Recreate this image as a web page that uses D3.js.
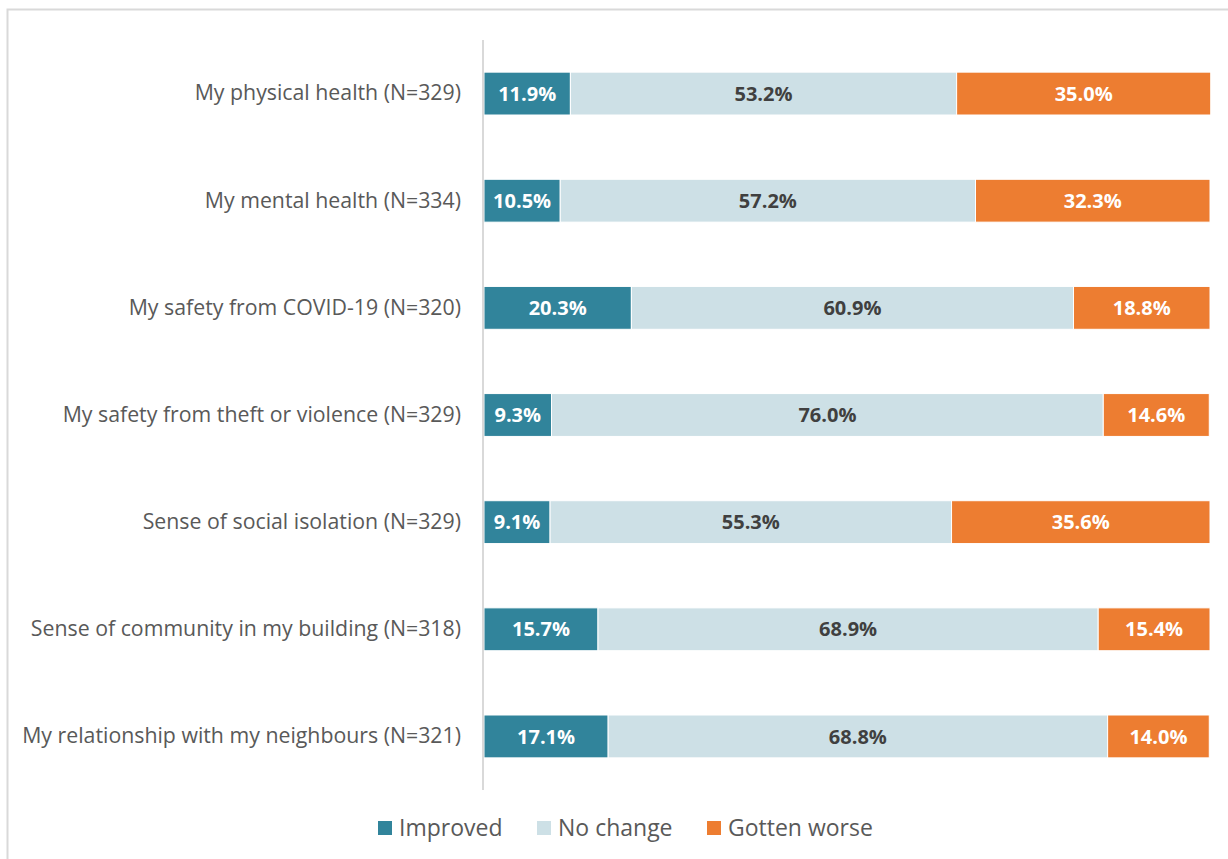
<!DOCTYPE html>
<html>
<head>
<meta charset="utf-8">
<script src="https://cdn.jsdelivr.net/npm/d3@7"></script>
<style>
  html, body { margin: 0; padding: 0; background: #fff; }
  svg { display: block; font-family: "Open Sans", Lato, sans-serif; }
</style>
</head>
<body>
<svg id="chart" width="1228" height="859"></svg>
<script>
// Survey items and their shares (percent)
const categories = [
  "My physical health (N=329)",
  "My mental health (N=334)",
  "My safety from COVID-19 (N=320)",
  "My safety from theft or violence (N=329)",
  "Sense of social isolation (N=329)",
  "Sense of community in my building (N=318)",
  "My relationship with my neighbours (N=321)"
];
const improved  = [11.9, 10.5, 20.3, 9.3, 9.1, 15.7, 17.1];
const noChange  = [53.2, 57.2, 60.9, 76.0, 55.3, 68.9, 68.8];
const worse     = [35.0, 32.3, 18.8, 14.6, 35.6, 15.4, 14.0];
const seriesNames = ["Improved", "No change", "Gotten worse"];
const seriesColors = ["#31849B", "#CDE0E6", "#ED7D31"];
const labelColors = ["#ffffff", "#404040", "#ffffff"];

const svg = d3.select("#chart");
const W = 1228, H = 859;

// outer chart frame
svg.append("rect")
  .attr("x", 7.5).attr("y", 9.5)
  .attr("width", W).attr("height", H)
  .attr("fill", "none").attr("stroke", "#d9d9d9").attr("stroke-width", 2);

const plot = { left: 484, right: 1210, top: 40, bottom: 790 };

const rows = categories.map((c, i) => ({
  cat: c, vals: [improved[i], noChange[i], worse[i]]
}));

const y = d3.scaleBand()
  .domain(categories)
  .range([plot.top, plot.bottom])
  .paddingInner(0.6).paddingOuter(0.3);

const x = d3.scaleLinear().domain([0, 100]).range([plot.left, plot.right]);

// stacked segments
const segs = [];
rows.forEach(r => {
  let acc = 0;
  r.vals.forEach((v, k) => {
    segs.push({ cat: r.cat, k, v, x0: acc, x1: acc + v });
    acc += v;
  });
});

svg.append("g").selectAll("rect")
  .data(segs).join("rect")
  .attr("x", d => x(d.x0))
  .attr("y", d => y(d.cat))
  .attr("width", d => x(d.x1) - x(d.x0))
  .attr("height", y.bandwidth())
  .attr("fill", d => seriesColors[d.k])
  .attr("stroke", "#ffffff").attr("stroke-width", 1);

svg.append("g").selectAll("text")
  .data(segs).join("text")
  .attr("x", d => (x(d.x0) + x(d.x1)) / 2)
  .attr("y", d => y(d.cat) + y.bandwidth() / 2)
  .attr("dy", "0.36em")
  .attr("text-anchor", "middle")
  .attr("font-size", 20)
  .attr("font-weight", "bold")
  .attr("fill", d => labelColors[d.k])
  .text(d => d.v.toFixed(1) + "%");

// category axis
const yAxis = svg.append("g")
  .attr("transform", `translate(${plot.left - 1},0)`)
  .call(d3.axisLeft(y).tickSize(0).tickPadding(22));
yAxis.select(".domain").attr("stroke", "#d9d9d9").attr("stroke-width", 2)
  .attr("d", `M0,${plot.top}V${plot.bottom}`);
yAxis.selectAll("text")
  .attr("font-family", "'Open Sans', Lato, sans-serif")
  .attr("font-size", 21.3)
  .attr("fill", "#595959");

// legend
const legendX = [378, 537, 707];
const lg = svg.append("g").selectAll("g")
  .data(seriesNames).join("g")
  .attr("transform", (d, i) => `translate(${legendX[i]},828)`);
lg.append("rect")
  .attr("x", 0).attr("y", -7).attr("width", 14).attr("height", 14)
  .attr("fill", (d, i) => seriesColors[i]);
lg.append("text")
  .attr("x", 21).attr("dy", "0.36em")
  .attr("font-size", 23)
  .attr("fill", "#595959")
  .text(d => d);
</script>
</body>
</html>
